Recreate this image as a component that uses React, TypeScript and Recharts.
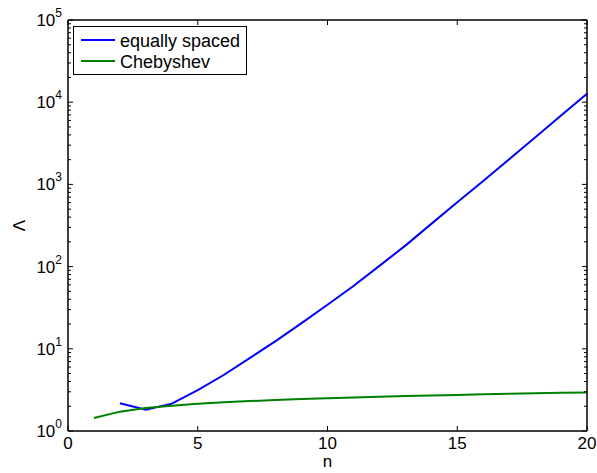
import { LineChart, Line, XAxis, YAxis, Legend, ReferenceArea } from 'recharts';

const nValues = [1, 2, 3, 4, 5, 6, 7, 8, 9, 10, 11, 12, 13, 14, 15, 16, 17, 18, 19, 20];
const equallySpaced = [null, 2.17, 1.82, 2.15, 3.15, 4.8, 7.7, 12.4, 20.5, 34.4, 58, 102, 180, 331, 605, 1097, 2023, 3730, 6870, 12680];
const chebyshev = [1.44, 1.72, 1.9, 2.03, 2.14, 2.23, 2.31, 2.38, 2.45, 2.51, 2.56, 2.61, 2.66, 2.71, 2.75, 2.79, 2.83, 2.87, 2.91, 2.95];
const seriesNames = ['equally spaced', 'Chebyshev'];

const xTicks = [0, 5, 10, 15, 20];
const yMajorTicks = [1, 10, 100, 1000, 10000, 100000];
const yMinorFactors = [2, 3, 4, 5, 6, 7, 8, 9];

const yTicks = yMajorTicks.flatMap((t) =>
  t === 100000 ? [t] : [t, ...yMinorFactors.map((f) => f * t)]
);

const data = nValues.map((n, i) => ({ n, equal: equallySpaced[i], cheb: chebyshev[i] }));

const FONT = "'Liberation Sans', Arial, Helvetica, sans-serif";
const MAJOR_LEN = 5;
const MINOR_LEN = 3;

const LeftTick = ({ x, y, payload }: any) => {
  const v = payload.value;
  const axisX = x + 6;
  const major = yMajorTicks.includes(v);
  return (
    <g>
      <line x1={axisX} x2={axisX + (major ? MAJOR_LEN : MINOR_LEN)} y1={y} y2={y} stroke="#000" />
      {major && (
        <text x={axisX - 6} y={y + 6} textAnchor="end" fontSize={17} fill="#000" fontFamily={FONT}>
          10<tspan dy={-9} fontSize={12}>{Math.round(Math.log10(v))}</tspan>
        </text>
      )}
    </g>
  );
};

const RightTick = ({ x, y, payload }: any) => {
  const major = yMajorTicks.includes(payload.value);
  return <line x1={x} x2={x - (major ? MAJOR_LEN : MINOR_LEN)} y1={y} y2={y} stroke="#000" />;
};

const BottomTick = ({ x, y, payload }: any) => {
  const axisY = y - 6;
  return (
    <g>
      <line x1={x} x2={x} y1={axisY} y2={axisY - MAJOR_LEN} stroke="#000" />
      <text x={x} y={axisY + 18} textAnchor="middle" fontSize={17} fill="#000" fontFamily={FONT}>
        {payload.value}
      </text>
    </g>
  );
};

const TopTick = ({ x, y }: any) => (
  <line x1={x} x2={x} y1={y} y2={y + MAJOR_LEN} stroke="#000" />
);

const LegendBox = ({ payload }: any) => {
  const items = seriesNames
    .map((name) => (payload || []).find((p: any) => p.value === name))
    .filter(Boolean);
  return (
    <svg width={175} height={50} style={{ display: 'block' }}>
      <rect x={0.5} y={0.5} width={173} height={48} fill="#fff" stroke="#000" />
      {items.map((item: any, i: number) => (
        <g key={item.value}>
          <line x1={8} x2={42} y1={14 + i * 21} y2={14 + i * 21} stroke={item.color} strokeWidth={2} />
          <text x={47} y={20.5 + i * 21} fontSize={18} fill="#000" fontFamily={FONT}>
            {item.value}
          </text>
        </g>
      ))}
    </svg>
  );
};

export default function App() {
  return (
    <div style={{ position: 'absolute', left: 0, top: 0, background: '#fff' }}>
      <LineChart
        width={597}
        height={473}
        data={data}
        margin={{ top: 19, right: 9, bottom: 0, left: 0 }}
        style={{ fontFamily: FONT }}
      >
        <XAxis
          dataKey="n"
          type="number"
          domain={[0, 20]}
          ticks={xTicks}
          interval={0}
          height={42}
          tickSize={0}
          tickMargin={6}
          tick={<BottomTick />}
          axisLine={{ stroke: '#000' }}
          label={{ value: 'n', position: 'insideBottom', offset: 6, fill: '#000', fontSize: 17 }}
        />
        <XAxis
          xAxisId="top"
          orientation="top"
          dataKey="n"
          type="number"
          domain={[0, 20]}
          ticks={xTicks}
          interval={0}
          height={1}
          tickSize={0}
          tickMargin={0}
          tick={<TopTick />}
          axisLine={{ stroke: '#000' }}
        />
        <YAxis
          scale="log"
          type="number"
          domain={[1, 100000]}
          ticks={yTicks}
          interval={0}
          width={68}
          tickSize={0}
          tickMargin={6}
          tick={<LeftTick />}
          allowDataOverflow
          axisLine={{ stroke: '#000' }}
          label={{
            value: 'Λ',
            angle: -90,
            position: 'insideLeft',
            offset: 19,
            fill: '#000',
            fontSize: 17,
            style: { textAnchor: 'middle' },
          }}
        />
        <YAxis
          yAxisId="right"
          orientation="right"
          scale="log"
          type="number"
          domain={[1, 100000]}
          ticks={yTicks}
          interval={0}
          width={1}
          tickSize={0}
          tickMargin={0}
          tick={<RightTick />}
          allowDataOverflow
          axisLine={{ stroke: '#000' }}
        />
        <ReferenceArea
          x1={0}
          x2={20}
          y1={1}
          y2={100000}
          fill="none"
          stroke="#000"
          strokeOpacity={1}
          fillOpacity={0}
          ifOverflow="visible"
        />
        <Legend
          layout="vertical"
          align="center"
          verticalAlign="middle"
          content={<LegendBox />}
          wrapperStyle={{ left: 73, top: 26, width: 175, height: 50 }}
        />
        <Line
          xAxisId="top"
          yAxisId="right"
          type="linear"
          dataKey="cheb"
          name="frame"
          stroke="none"
          legendType="none"
          dot={false}
          activeDot={false}
          isAnimationActive={false}
        />
        <Line
          type="linear"
          dataKey="equal"
          name="equally spaced"
          stroke="#0000ff"
          strokeWidth={2}
          dot={false}
          isAnimationActive={false}
        />
        <Line
          type="linear"
          dataKey="cheb"
          name="Chebyshev"
          stroke="#008000"
          strokeWidth={2}
          dot={false}
          isAnimationActive={false}
        />
      </LineChart>
    </div>
  );
}
